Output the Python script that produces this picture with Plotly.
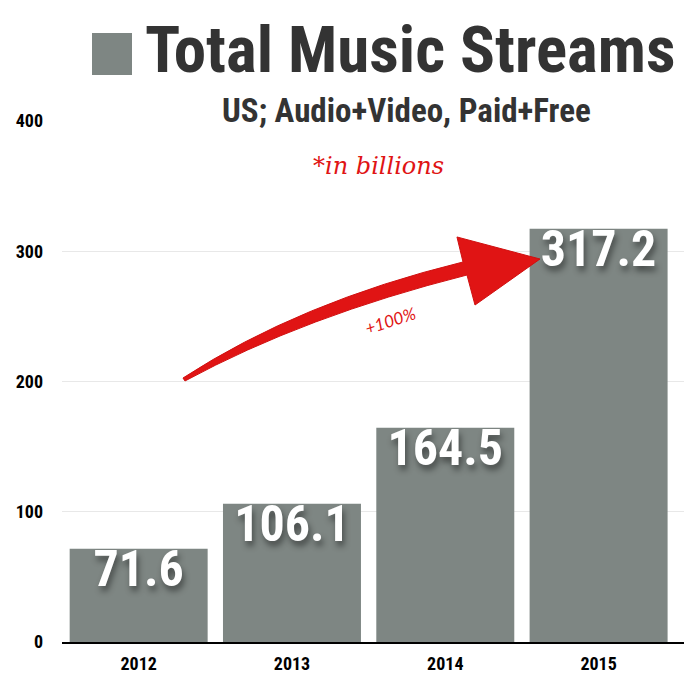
import plotly.graph_objects as go

years = ["2012", "2013", "2014", "2015"]
streams = [71.6, 106.1, 164.5, 317.2]
y_ticks = [0, 100, 200, 300, 400]

W, H = 684, 690
L, R, T, B = 62, 0, 121, 48
PW, PH = W - L - R, H - T - B

def px(x):
    return (x - L) / PW

def py(y):
    return (H - B - y) / PH

def pt(x, y):
    return f"{px(x):.4f},{py(y):.4f}"

COND = "Roboto Condensed, Roboto"
BAR = "#7E8683"

fig = go.Figure()
fig.add_trace(go.Bar(
    x=years, y=streams,
    marker=dict(color=BAR, line=dict(width=0)),
    hoverinfo="skip",
))
fig.add_trace(go.Scatter(
    x=years, y=streams,
    mode="text",
    text=[f"{v:.1f}" for v in streams],
    textposition="bottom center",
    textfont=dict(family=COND, size=50, color="white", weight="bold",
                  shadow="2px 5px 6px rgba(0,0,0,0.45)"),
    hoverinfo="skip",
    cliponaxis=False,
))

arrow_path = (
    "M " + pt(183, 378) + " Q " + pt(300, 302) + " " + pt(463, 262)
    + " L " + pt(457, 237) + " L " + pt(540, 259) + " L " + pt(475, 305)
    + " L " + pt(467, 275) + " Q " + pt(305, 316) + " " + pt(185, 381) + " Z"
)

fig.update_layout(
    width=W, height=H,
    margin=dict(l=L, r=R, t=T, b=B),
    paper_bgcolor="white", plot_bgcolor="white",
    bargap=0.1,
    showlegend=False,
    xaxis=dict(type="category", range=[-0.5, 3.557], showgrid=False,
               showline=True, linecolor="black", linewidth=2,
               ticks="", ticklabelstandoff=4,
               tickfont=dict(family=COND, size=18, color="black", weight="bold"),
               fixedrange=True),
    yaxis=dict(range=[0, 400], tickvals=y_ticks, showgrid=True, gridcolor="#e8e8e8",
               gridwidth=1, zeroline=False, showline=False, ticks="",
               ticklabelstandoff=18,
               tickfont=dict(family=COND, size=18, color="black", weight="bold"),
               fixedrange=True),
    shapes=[
        dict(type="rect", xref="paper", yref="paper",
             x0=px(92), x1=px(132), y0=py(75), y1=py(33),
             fillcolor=BAR, line=dict(width=0)),
        dict(type="path", xref="paper", yref="paper", path=arrow_path,
             fillcolor="#E01414", line=dict(color="#D01010", width=1)),
    ],
    annotations=[
        dict(text="Total Music Streams", xref="paper", yref="paper",
             x=px(143), y=py(50), showarrow=False, xanchor="left", yanchor="middle",
             font=dict(family=COND, size=65, color="#333333", weight="bold")),
        dict(text="US; Audio+Video, Paid+Free", xref="paper", yref="paper",
             x=px(406), y=py(110), showarrow=False, xanchor="center", yanchor="middle",
             font=dict(family=COND, size=33, color="#333333", weight="bold")),
        dict(text="*in billions", xref="paper", yref="paper",
             x=px(378), y=py(166), showarrow=False, xanchor="center", yanchor="middle",
             font=dict(family="DejaVu Serif, Liberation Serif", size=24, color="#E01414",
                       style="italic")),
        dict(text="+100%", xref="paper", yref="paper",
             x=px(390), y=py(320), showarrow=False, xanchor="center", yanchor="middle",
             textangle=-18,
             font=dict(family="Lato, Noto Sans", size=17, color="#E01414", style="italic")),
    ],
)

fig.write_html("out.html", config={"displayModeBar": False},
               post_script="document.body.style.margin='0px';")
